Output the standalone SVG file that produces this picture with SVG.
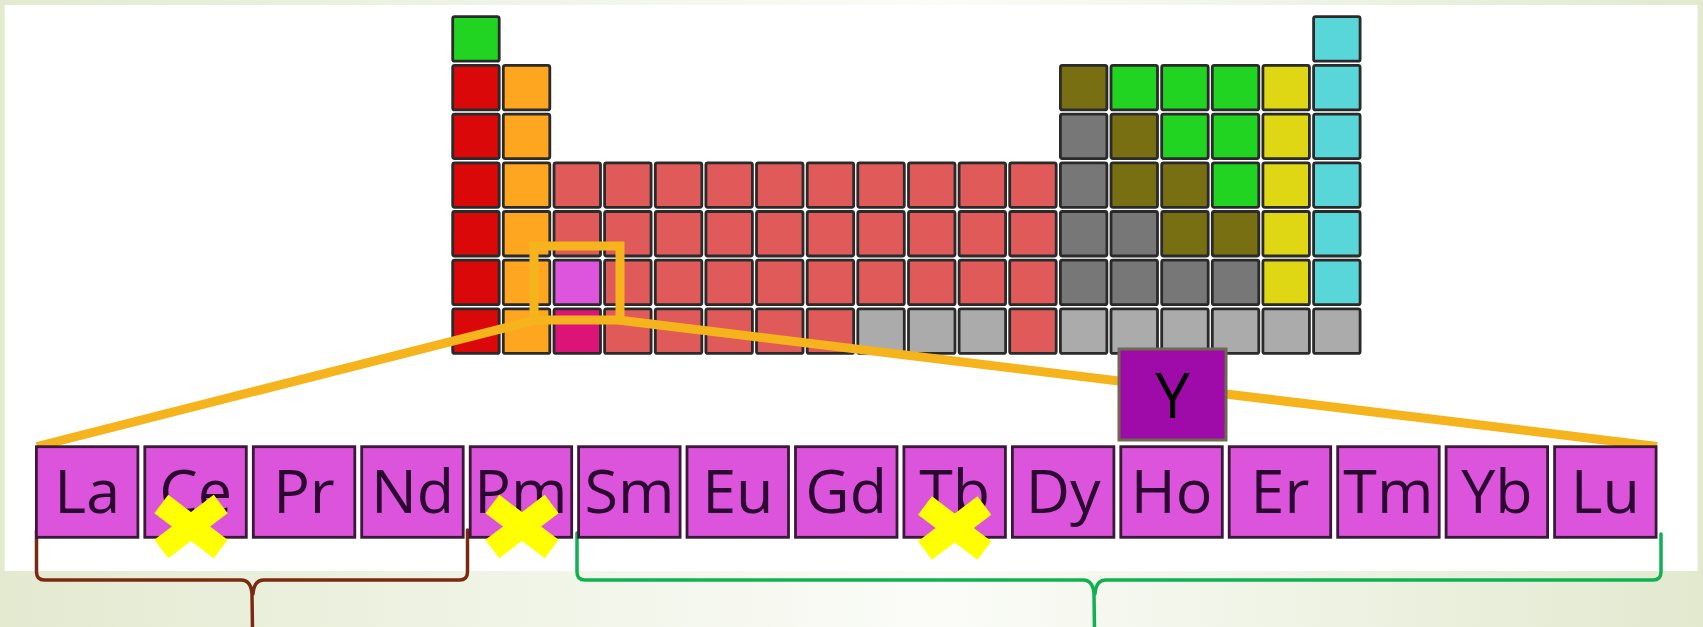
<svg xmlns="http://www.w3.org/2000/svg" width="1703" height="627" viewBox="0 0 1703 627">
<defs>
<linearGradient id="bg" x1="0" y1="0" x2="1" y2="0">
<stop offset="0" stop-color="#e3ead0"/>
<stop offset="0.55" stop-color="#fbfcf8"/>
<stop offset="1" stop-color="#e2e9cf"/>
</linearGradient>
<style>
.c{stroke:#2a2a2a;stroke-width:2.8}
.g{fill:#22d422}.rd{fill:#da0808}.or{fill:#ffa620}.sa{fill:#e05a5a}.pk{fill:#dd55dd}.dp{fill:#dc1478}
.ol{fill:#786e12}.gy{fill:#777777}.lg{fill:#ababab}.ye{fill:#dfd614}.cy{fill:#58d6d8}
.ln rect{fill:#dc54dc;stroke:#3a1838;stroke-width:2.8}
.ln text{font-family:"Open Sans","Liberation Sans",sans-serif;font-size:61px;fill:#2a0830;text-anchor:middle}
.zoom{fill:none;stroke:#f5b31c;stroke-width:9;stroke-linejoin:miter}
.cross{stroke:#ffff00;stroke-width:23;stroke-linecap:butt}
.brace{fill:none;stroke-width:3.5;stroke-linecap:round}
</style>
</defs>
<rect x="0" y="0" width="1703" height="627" fill="url(#bg)"/>
<rect x="4.6" y="5" width="1693" height="566" fill="#ffffff"/>

<g id="table">
<g id="row1">
<rect class="c g" x="452.7" y="16.7" width="46.5" height="44.5" rx="2"/>
<rect class="c cy" x="1313.6" y="16.7" width="46.5" height="44.5" rx="2"/>
</g>
<g id="row2">
<rect class="c rd" x="452.7" y="65.4" width="46.5" height="44.5" rx="2"/>
<rect class="c or" x="503.3" y="65.4" width="46.5" height="44.5" rx="2"/>
<rect class="c ol" x="1060.4" y="65.4" width="46.5" height="44.5" rx="2"/>
<rect class="c g" x="1111.0" y="65.4" width="46.5" height="44.5" rx="2"/>
<rect class="c g" x="1161.7" y="65.4" width="46.5" height="44.5" rx="2"/>
<rect class="c g" x="1212.3" y="65.4" width="46.5" height="44.5" rx="2"/>
<rect class="c ye" x="1262.9" y="65.4" width="46.5" height="44.5" rx="2"/>
<rect class="c cy" x="1313.6" y="65.4" width="46.5" height="44.5" rx="2"/>
</g>
<g id="row3">
<rect class="c rd" x="452.7" y="114.1" width="46.5" height="44.5" rx="2"/>
<rect class="c or" x="503.3" y="114.1" width="46.5" height="44.5" rx="2"/>
<rect class="c gy" x="1060.4" y="114.1" width="46.5" height="44.5" rx="2"/>
<rect class="c ol" x="1111.0" y="114.1" width="46.5" height="44.5" rx="2"/>
<rect class="c g" x="1161.7" y="114.1" width="46.5" height="44.5" rx="2"/>
<rect class="c g" x="1212.3" y="114.1" width="46.5" height="44.5" rx="2"/>
<rect class="c ye" x="1262.9" y="114.1" width="46.5" height="44.5" rx="2"/>
<rect class="c cy" x="1313.6" y="114.1" width="46.5" height="44.5" rx="2"/>
</g>
<g id="row4">
<rect class="c rd" x="452.7" y="162.8" width="46.5" height="44.5" rx="2"/>
<rect class="c or" x="503.3" y="162.8" width="46.5" height="44.5" rx="2"/>
<rect class="c sa" x="554.0" y="162.8" width="46.5" height="44.5" rx="2"/>
<rect class="c sa" x="604.6" y="162.8" width="46.5" height="44.5" rx="2"/>
<rect class="c sa" x="655.3" y="162.8" width="46.5" height="44.5" rx="2"/>
<rect class="c sa" x="705.9" y="162.8" width="46.5" height="44.5" rx="2"/>
<rect class="c sa" x="756.5" y="162.8" width="46.5" height="44.5" rx="2"/>
<rect class="c sa" x="807.2" y="162.8" width="46.5" height="44.5" rx="2"/>
<rect class="c sa" x="857.8" y="162.8" width="46.5" height="44.5" rx="2"/>
<rect class="c sa" x="908.5" y="162.8" width="46.5" height="44.5" rx="2"/>
<rect class="c sa" x="959.1" y="162.8" width="46.5" height="44.5" rx="2"/>
<rect class="c sa" x="1009.7" y="162.8" width="46.5" height="44.5" rx="2"/>
<rect class="c gy" x="1060.4" y="162.8" width="46.5" height="44.5" rx="2"/>
<rect class="c ol" x="1111.0" y="162.8" width="46.5" height="44.5" rx="2"/>
<rect class="c ol" x="1161.7" y="162.8" width="46.5" height="44.5" rx="2"/>
<rect class="c g" x="1212.3" y="162.8" width="46.5" height="44.5" rx="2"/>
<rect class="c ye" x="1262.9" y="162.8" width="46.5" height="44.5" rx="2"/>
<rect class="c cy" x="1313.6" y="162.8" width="46.5" height="44.5" rx="2"/>
</g>
<g id="row5">
<rect class="c rd" x="452.7" y="211.5" width="46.5" height="44.5" rx="2"/>
<rect class="c or" x="503.3" y="211.5" width="46.5" height="44.5" rx="2"/>
<rect class="c sa" x="554.0" y="211.5" width="46.5" height="44.5" rx="2"/>
<rect class="c sa" x="604.6" y="211.5" width="46.5" height="44.5" rx="2"/>
<rect class="c sa" x="655.3" y="211.5" width="46.5" height="44.5" rx="2"/>
<rect class="c sa" x="705.9" y="211.5" width="46.5" height="44.5" rx="2"/>
<rect class="c sa" x="756.5" y="211.5" width="46.5" height="44.5" rx="2"/>
<rect class="c sa" x="807.2" y="211.5" width="46.5" height="44.5" rx="2"/>
<rect class="c sa" x="857.8" y="211.5" width="46.5" height="44.5" rx="2"/>
<rect class="c sa" x="908.5" y="211.5" width="46.5" height="44.5" rx="2"/>
<rect class="c sa" x="959.1" y="211.5" width="46.5" height="44.5" rx="2"/>
<rect class="c sa" x="1009.7" y="211.5" width="46.5" height="44.5" rx="2"/>
<rect class="c gy" x="1060.4" y="211.5" width="46.5" height="44.5" rx="2"/>
<rect class="c gy" x="1111.0" y="211.5" width="46.5" height="44.5" rx="2"/>
<rect class="c ol" x="1161.7" y="211.5" width="46.5" height="44.5" rx="2"/>
<rect class="c ol" x="1212.3" y="211.5" width="46.5" height="44.5" rx="2"/>
<rect class="c ye" x="1262.9" y="211.5" width="46.5" height="44.5" rx="2"/>
<rect class="c cy" x="1313.6" y="211.5" width="46.5" height="44.5" rx="2"/>
</g>
<g id="row6">
<rect class="c rd" x="452.7" y="260.2" width="46.5" height="44.5" rx="2"/>
<rect class="c or" x="503.3" y="260.2" width="46.5" height="44.5" rx="2"/>
<rect class="c pk" x="554.0" y="260.2" width="46.5" height="44.5" rx="2"/>
<rect class="c sa" x="604.6" y="260.2" width="46.5" height="44.5" rx="2"/>
<rect class="c sa" x="655.3" y="260.2" width="46.5" height="44.5" rx="2"/>
<rect class="c sa" x="705.9" y="260.2" width="46.5" height="44.5" rx="2"/>
<rect class="c sa" x="756.5" y="260.2" width="46.5" height="44.5" rx="2"/>
<rect class="c sa" x="807.2" y="260.2" width="46.5" height="44.5" rx="2"/>
<rect class="c sa" x="857.8" y="260.2" width="46.5" height="44.5" rx="2"/>
<rect class="c sa" x="908.5" y="260.2" width="46.5" height="44.5" rx="2"/>
<rect class="c sa" x="959.1" y="260.2" width="46.5" height="44.5" rx="2"/>
<rect class="c sa" x="1009.7" y="260.2" width="46.5" height="44.5" rx="2"/>
<rect class="c gy" x="1060.4" y="260.2" width="46.5" height="44.5" rx="2"/>
<rect class="c gy" x="1111.0" y="260.2" width="46.5" height="44.5" rx="2"/>
<rect class="c gy" x="1161.7" y="260.2" width="46.5" height="44.5" rx="2"/>
<rect class="c gy" x="1212.3" y="260.2" width="46.5" height="44.5" rx="2"/>
<rect class="c ye" x="1262.9" y="260.2" width="46.5" height="44.5" rx="2"/>
<rect class="c cy" x="1313.6" y="260.2" width="46.5" height="44.5" rx="2"/>
</g>
<g id="row7">
<rect class="c rd" x="452.7" y="308.9" width="46.5" height="44.5" rx="2"/>
<rect class="c or" x="503.3" y="308.9" width="46.5" height="44.5" rx="2"/>
<rect class="c dp" x="554.0" y="308.9" width="46.5" height="44.5" rx="2"/>
<rect class="c sa" x="604.6" y="308.9" width="46.5" height="44.5" rx="2"/>
<rect class="c sa" x="655.3" y="308.9" width="46.5" height="44.5" rx="2"/>
<rect class="c sa" x="705.9" y="308.9" width="46.5" height="44.5" rx="2"/>
<rect class="c sa" x="756.5" y="308.9" width="46.5" height="44.5" rx="2"/>
<rect class="c sa" x="807.2" y="308.9" width="46.5" height="44.5" rx="2"/>
<rect class="c lg" x="857.8" y="308.9" width="46.5" height="44.5" rx="2"/>
<rect class="c lg" x="908.5" y="308.9" width="46.5" height="44.5" rx="2"/>
<rect class="c lg" x="959.1" y="308.9" width="46.5" height="44.5" rx="2"/>
<rect class="c sa" x="1009.7" y="308.9" width="46.5" height="44.5" rx="2"/>
<rect class="c lg" x="1060.4" y="308.9" width="46.5" height="44.5" rx="2"/>
<rect class="c lg" x="1111.0" y="308.9" width="46.5" height="44.5" rx="2"/>
<rect class="c lg" x="1161.7" y="308.9" width="46.5" height="44.5" rx="2"/>
<rect class="c lg" x="1212.3" y="308.9" width="46.5" height="44.5" rx="2"/>
<rect class="c lg" x="1262.9" y="308.9" width="46.5" height="44.5" rx="2"/>
<rect class="c lg" x="1313.6" y="308.9" width="46.5" height="44.5" rx="2"/>
</g>
</g>

<g id="connectors">
<rect class="zoom" x="534" y="246" width="86" height="74"/>
<line class="zoom" stroke-width="8.5" x1="536" y1="320" x2="37" y2="446.5"/>
<line class="zoom" stroke-width="8.5" x1="618" y1="320" x2="1657" y2="446.5"/>
<path class="brace" stroke="#7b2a12" d="M36.5,530 L36.5,572 Q36.5,580 44.5,580 L241,580 Q251,580 252,594 L252.5,630 M467.5,530 L467.5,572 Q467.5,580 459.5,580 L264,580 Q254,580 253,594"/>
<path class="brace" stroke="#0fb152" d="M577,533 L577,572 Q577,580 585,580 L1083,580 Q1093,580 1094,594 L1094.5,630 M1661,534 L1661,572 Q1661,580 1653,580 L1106,580 Q1096,580 1095,594"/>
</g>

<g id="lanthanides" class="ln">
<g id="La"><rect x="36.4" y="446.7" width="101.5" height="90.6"/><text x="87.2" y="513">La</text></g>
<g id="Ce"><rect x="144.8" y="446.7" width="101.5" height="90.6"/><text x="195.6" y="513">Ce</text></g>
<g id="Pr"><rect x="253.3" y="446.7" width="101.5" height="90.6"/><text x="304.0" y="513">Pr</text></g>
<g id="Nd"><rect x="361.7" y="446.7" width="101.5" height="90.6"/><text x="412.5" y="513">Nd</text></g>
<g id="Pm"><rect x="470.2" y="446.7" width="101.5" height="90.6"/><text x="520.9" y="513">Pm</text></g>
<g id="Sm"><rect x="578.6" y="446.7" width="101.5" height="90.6"/><text x="629.4" y="513">Sm</text></g>
<g id="Eu"><rect x="687.0" y="446.7" width="101.5" height="90.6"/><text x="737.8" y="513">Eu</text></g>
<g id="Gd"><rect x="795.5" y="446.7" width="101.5" height="90.6"/><text x="846.2" y="513">Gd</text></g>
<g id="Tb"><rect x="903.9" y="446.7" width="101.5" height="90.6"/><text x="954.7" y="513">Tb</text></g>
<g id="Dy"><rect x="1012.4" y="446.7" width="101.5" height="90.6"/><text x="1063.1" y="513">Dy</text></g>
<g id="Ho"><rect x="1120.8" y="446.7" width="101.5" height="90.6"/><text x="1171.6" y="513">Ho</text></g>
<g id="Er"><rect x="1229.2" y="446.7" width="101.5" height="90.6"/><text x="1280.0" y="513">Er</text></g>
<g id="Tm"><rect x="1337.7" y="446.7" width="101.5" height="90.6"/><text x="1388.4" y="513">Tm</text></g>
<g id="Yb"><rect x="1446.1" y="446.7" width="101.5" height="90.6"/><text x="1496.9" y="513">Yb</text></g>
<g id="Lu"><rect x="1554.6" y="446.7" width="101.5" height="90.6"/><text x="1605.3" y="513">Lu</text></g>
</g>

<g id="Y">
<rect x="1119" y="349" width="107" height="91" fill="#9e0ba8" stroke="#6e6a50" stroke-width="3"/>
<text x="1172.5" y="418" font-family="'Open Sans','Liberation Sans',sans-serif" font-size="62" fill="#000" text-anchor="middle">Y</text>
</g>

<g id="crosses">
<path class="cross" d="M161.3,504 L220.7,549 M220.7,504 L161.3,549"/>
<path class="cross" d="M492.3,504 L551.7,549 M551.7,504 L492.3,549"/>
<path class="cross" d="M925,505.5 L984.4,550.5 M984.4,505.5 L925,550.5"/>
</g>
</svg>
